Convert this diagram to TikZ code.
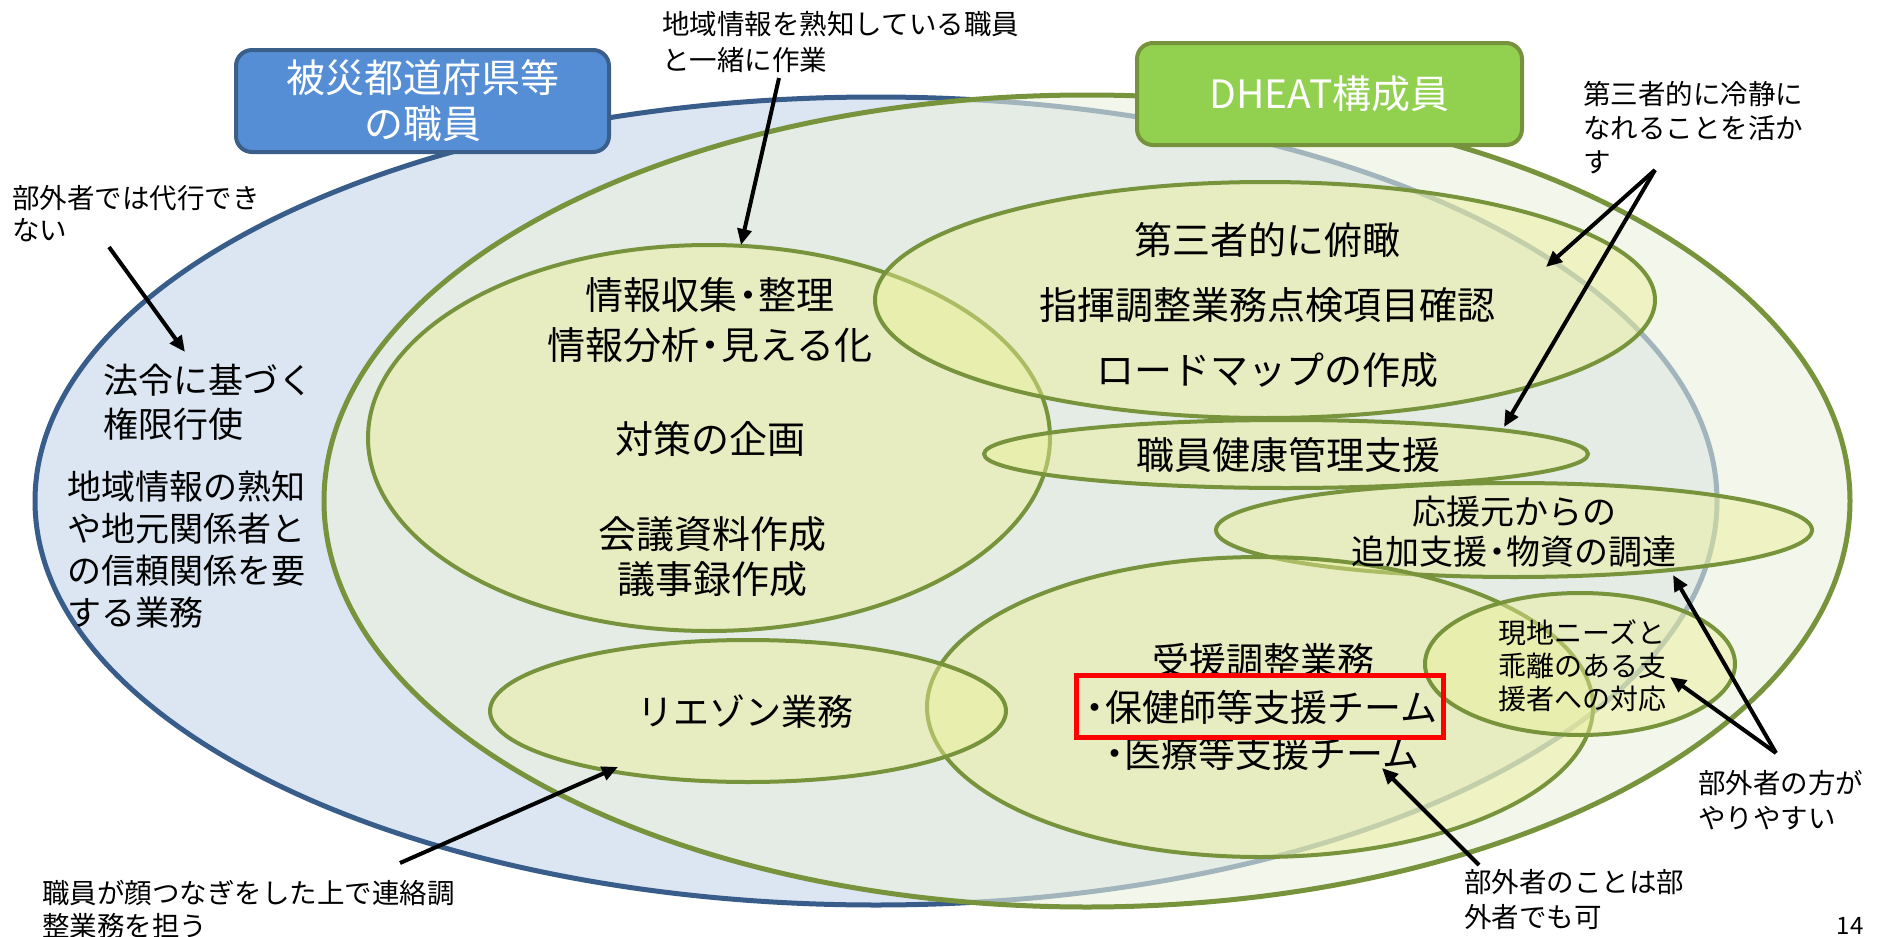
\documentclass[tikz,border=0pt]{standalone}
\usepackage{fontspec}
\setmainfont{Noto Sans CJK JP}
\usetikzlibrary{shapes.geometric,arrows.meta}
\definecolor{blueFill}{HTML}{DCE6F2}
\definecolor{blueLine}{HTML}{385D8A}
\definecolor{greenFill}{HTML}{EBF1DE}
\definecolor{greenLine}{HTML}{77933C}
\definecolor{innerFill}{RGB}{235,240,150}
\definecolor{boxBlue}{HTML}{558ED5}
\definecolor{boxBlueLine}{HTML}{3A5F8B}
\definecolor{boxGreen}{HTML}{92D050}
\definecolor{boxGreenLine}{HTML}{76923C}
\newcommand{\fsz}[2]{\fontsize{#1}{#2}\selectfont}
\newcommand{\nd}{\kern-0.22em・\kern-0.22em}
\begin{document}
\begin{tikzpicture}[x=0.5pt,y=-0.5pt,
  ell/.style={ellipse, inner sep=0pt, outer sep=0pt},
  bigblue/.style={ell, fill=blueFill, draw=blueLine, line width=2.5pt},
  biggreen/.style={ell, fill=greenFill, fill opacity=0.6, draw=greenLine, draw opacity=1, line width=2.5pt},
  inner/.style={ell, fill=innerFill, fill opacity=0.45, draw=greenLine, draw opacity=1, line width=2pt},
  note/.style={font=\fsz{13.75}{17.5}, align=left, inner sep=0pt, anchor=west},
  main/.style={font=\fsz{19}{24}, inner sep=0pt, align=center},
  arr/.style={line width=2pt, -{Triangle[length=8pt,width=7pt]}},
  boxlbl/.style={rounded corners=8pt, line width=2pt, text=white, font=\fsz{19.5}{23}, align=center, inner sep=0pt}]
\useasboundingbox (0,0) rectangle (1892,937);
\fill[white] (0,0) rectangle (1892,937);

% big ellipses
\node[bigblue, minimum width=841pt, minimum height=404pt] (blueE) at (876,501) {};
\node[biggreen, minimum width=763pt, minimum height=406pt] (greenE) at (1087,501) {};

% inner ellipses
\node[inner, minimum width=341pt, minimum height=193pt] (infoE) at (709,438) {};
\node[inner, minimum width=390pt, minimum height=118pt] (thirdE) at (1265,300) {};
\node[inner, minimum width=302pt, minimum height=34pt] (healthE) at (1286,454) {};
\node[inner, minimum width=298pt, minimum height=47pt] (supportE) at (1514,530) {};
\node[inner, minimum width=333pt, minimum height=150pt] (juenE) at (1260,707) {};
\node[inner, minimum width=155pt, minimum height=71pt] (needsE) at (1580,664) {};
\node[inner, minimum width=258pt, minimum height=71pt] (liaisonE) at (748,711) {};

% texts
\node[note, font=\fsz{13.75}{18}] (t1) at (662,42) {地域情報を熟知している職員\\と一緒に作業};
\node[note, font=\fsz{13.75}{17}] (t2) at (1583,128) {第三者的に冷静に\\なれることを活か\\す};
\node[note, font=\fsz{13.75}{16}] (t3) at (12,214) {部外者では代行でき\\ない};
\node[note, font=\fsz{17.5}{22}] (t4) at (103,402) {法令に基づく\\権限行使};
\node[note, font=\fsz{17}{21}] (t5) at (67,550) {地域情報の熟知\\や地元関係者と\\の信頼関係を要\\する業務};

\node[main] (t6a) at (710,295) {情報収集\nd 整理};
\node[main] (t6b) at (710,345) {情報分析\nd 見える化};
\node[main] (t6c) at (710,439) {対策の企画};
\node[main, font=\fsz{19}{22.5}] (t6d) at (712,557) {会議資料作成\\議事録作成};

\node[main] (t7a) at (1267,240) {第三者的に俯瞰};
\node[main] (t7b) at (1267,305) {指揮調整業務点検項目確認};
\node[main] (t7c) at (1267,370) {ロードマップの作成};
\node[main] (t8) at (1288,455) {職員健康管理支援};
\node[main, font=\fsz{17}{20}] (t9) at (1514,532) {応援元からの\\追加支援\nd 物資の調達};
\node[main, font=\fsz{14}{16.5}] (t10) at (1582,666) {現地ニーズと\\乖離のある支\\援者への対応};

\node[main, font=\fsz{18.5}{23}] (t11a) at (1263,660) {受援調整業務};
\node[main, font=\fsz{18.5}{23}] (t11b) at (1261,707) {\kern-0.22em・\kern-0.22em 保健師等支援チーム};
\node[main, font=\fsz{18.5}{23}] (t11c) at (1262,753) {\kern-0.22em・\kern-0.22em 医療等支援チーム};
\node[draw=red, line width=2.5pt, minimum width=183.5pt, minimum height=31pt, inner sep=0pt] (redbox) at (1259.5,706) {};

\node[main, font=\fsz{18}{22}] (t12) at (745,712) {リエゾン業務};
\node[note, font=\fsz{13.75}{16.5}] (t13) at (42,909) {職員が顔つなぎをした上で連絡調\\整業務を担う};
\node[note] (t14) at (1698,800) {部外者の方が\\やりやすい};
\node[note] (t15) at (1464,900) {部外者のことは部\\外者でも可};
\node[font=\fsz{12}{14}, inner sep=0pt] (t16) at (1850,926) {14};

% arrow endpoints
\coordinate (a1s) at (109,247); \coordinate (a1e) at (185,352);
\coordinate (a2s) at (779,78);  \coordinate (a2e) at (741,245);
\coordinate (a3s) at (1655,170); \coordinate (a3e) at (1546,267); \coordinate (a3f) at (1504,427);
\coordinate (a4s) at (400,863); \coordinate (a4e) at (618,767);
\coordinate (a5s) at (1776,753); \coordinate (a5e) at (1673,575); \coordinate (a5f) at (1670,677);
\coordinate (a6s) at (1479,865); \coordinate (a6e) at (1382,768);

\draw[arr] (a1s) -- (a1e);
\draw[arr] (a2s) -- (a2e);
\draw[arr] (a3s) -- (a3e);
\draw[arr] (a3s) -- (a3f);
\draw[arr] (a4s) -- (a4e);
\draw[arr] (a5s) -- (a5e);
\draw[arr] (a5s) -- (a5f);
\draw[arr] (a6s) -- (a6e);

% label boxes
\node[boxlbl, fill=boxBlue, draw=boxBlueLine, minimum width=186.5pt, minimum height=51pt] (boxA) at (422.5,101) {被災都道府県等\\の職員};
\node[boxlbl, fill=boxGreen, draw=boxGreenLine, minimum width=192.5pt, minimum height=51pt] (boxB) at (1329.5,94) {DHEAT構成員};
\end{tikzpicture}
\end{document}
